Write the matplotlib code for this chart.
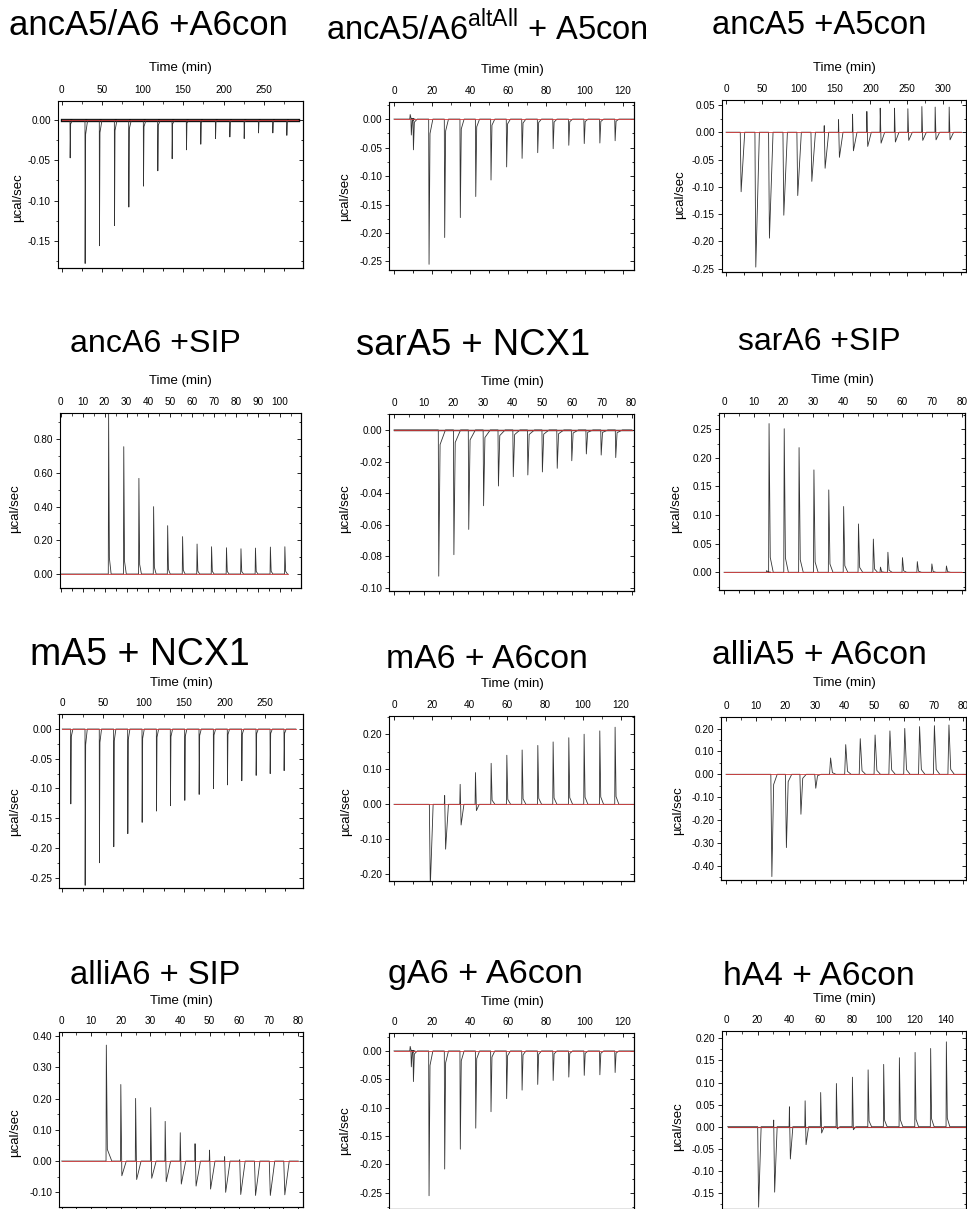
import matplotlib
matplotlib.use('Agg')
import matplotlib.pyplot as plt
from matplotlib.ticker import MultipleLocator, FuncFormatter

plt.rcParams['font.family'] = ['Liberation Sans', 'DejaVu Sans']
plt.rcParams['axes.unicode_minus'] = False
plt.rcParams['mathtext.fontset'] = 'custom'
plt.rcParams['mathtext.rm'] = 'Liberation Sans'

# ---- data: injection times (min), first peak, second (opposite) peak (ucal/sec) ----
titles = ['ancA5/A6 +A6con', r'ancA5/A6$^{\rm altAll}$ + A5con', 'ancA5 +A5con',
          'ancA6 +SIP', 'sarA5 + NCX1', 'sarA6 +SIP',
          'mA5 + NCX1', 'mA6 + A6con', 'alliA5 + A6con',
          'alliA6 + SIP', 'gA6 + A6con', 'hA4 + A6con']

anc56_t = [10.3, 28.8, 46.5, 65.1, 82.8, 100.9, 118.6, 136.3, 154.0, 171.7, 189.9, 207.6, 225.3, 243.0, 260.7, 278.0]
anc56_p = [-0.047, -0.178, -0.156, -0.131, -0.108, -0.082, -0.063, -0.048, -0.037, -0.030, -0.023, -0.021, -0.023, -0.016, -0.016, -0.019]

alt_t = [8.3, 8.9, 10.0, 18.2, 26.4, 34.6, 42.7, 50.7, 58.9, 67.0, 75.2, 83.3, 91.5, 99.6, 107.8, 115.8]
alt_p = [0.008, -0.028, -0.054, -0.255, -0.208, -0.173, -0.136, -0.107, -0.084, -0.069, -0.059, -0.052, -0.046, -0.043, -0.042, -0.038]

anc5_t = [19.4, 39.7, 58.6, 78.5, 97.8, 117.3, 135.7, 155.5, 174.9, 194.7, 213.2, 233.0, 251.5, 270.9, 289.3, 308.7]
anc5_up = [0, 0, 0, 0, 0, 0, 0.012, 0.023, 0.033, 0.038, 0.044, 0.044, 0.043, 0.047, 0.046, 0.046]
anc5_down = [-0.109, -0.247, -0.194, -0.152, -0.116, -0.090, -0.066, -0.046, -0.034, -0.026, -0.020, -0.018, -0.015, -0.015, -0.014, -0.014]

anc6_t = [21.7, 28.6, 35.5, 42.2, 48.6, 55.4, 62.0, 68.6, 75.4, 82.0, 88.6, 95.4, 102.0]
anc6_p = [0.95, 0.756, 0.568, 0.400, 0.287, 0.222, 0.178, 0.162, 0.156, 0.150, 0.154, 0.160, 0.162]

sar5_t = [14.9, 20.0, 25.0, 30.0, 35.0, 40.0, 44.9, 49.8, 54.8, 59.7, 64.6, 69.6, 74.5]
sar5_p = [-0.0926, -0.079, -0.063, -0.048, -0.0355, -0.0296, -0.0285, -0.0266, -0.0243, -0.0195, -0.0152, -0.0159, -0.0175]

sar6_t = [14.2, 15.0, 20.1, 25.1, 30.1, 35.1, 40.1, 45.1, 50.1, 52.5, 55.0, 59.9, 64.9, 69.8, 74.7]
sar6_p = [0.003, 0.260, 0.251, 0.218, 0.179, 0.144, 0.115, 0.0845, 0.058, 0.009, 0.035, 0.0256, 0.0186, 0.0146, 0.011]

m5_t = [10.3, 28.0, 45.6, 63.3, 80.6, 98.3, 116.0, 133.2, 150.9, 168.6, 186.3, 203.5, 221.2, 238.9, 256.2, 273.4]
m5_p = [-0.126, -0.263, -0.225, -0.198, -0.176, -0.157, -0.138, -0.129, -0.120, -0.110, -0.100, -0.094, -0.087, -0.078, -0.075, -0.070]

m6_t = [18.5, 26.6, 34.8, 42.9, 51.2, 59.5, 67.6, 75.9, 84.0, 92.3, 100.4, 108.7, 116.8]
m6_up = [0, 0.025, 0.057, 0.0905, 0.117, 0.140, 0.155, 0.168, 0.178, 0.190, 0.200, 0.2095, 0.220]
m6_down = [-0.235, -0.128, -0.059, -0.018, 0, 0, 0, 0, 0, 0, 0, 0, 0]

alli5_t = [15.1, 20.0, 24.9, 29.9, 34.9, 40.0, 44.9, 49.9, 54.9, 59.9, 64.9, 69.9, 74.8]
alli5_p = [-0.448, -0.321, -0.175, -0.061, 0.0715, 0.130, 0.156, 0.172, 0.190, 0.201, 0.209, 0.213, 0.216]

alli6_t = [15.0, 19.9, 24.9, 30.0, 34.9, 40.0, 45.0, 49.9, 55.0, 60.1, 65.1, 70.1, 75.0]
alli6_up = [0.371, 0.245, 0.2005, 0.171, 0.127, 0.0907, 0.0555, 0.035, 0.014, 0.004, 0.0, 0.0, 0.0]
alli6_down = [0, -0.047, -0.059, -0.055, -0.066, -0.0736, -0.080, -0.0896, -0.100, -0.107, -0.110, -0.110, -0.108]

h4_t = [19.9, 30.1, 40.1, 50.1, 60.0, 70.0, 80.2, 90.2, 100.1, 110.1, 120.1, 130.0, 140.0]
h4_up = [0, 0.015, 0.045, 0.0586, 0.0774, 0.0977, 0.112, 0.1286, 0.141, 0.156, 0.168, 0.177, 0.192]
h4_down = [-0.182, -0.148, -0.073, -0.0406, -0.0143, -0.005, -0.0068, 0, 0, 0, 0, 0, 0]

# trace start / end (min)
t_range = [(1, 291.6), (0, 126), (0, 326), (0, 103.5), (0, 80), (0, 80),
           (0, 288), (0, 126.7), (0, 81), (0, 80), (0, 126), (1, 152.7)]

data = [(anc56_t, anc56_p, None), (alt_t, alt_p, None), (anc5_t, anc5_up, anc5_down),
        (anc6_t, anc6_p, None), (sar5_t, sar5_p, None), (sar6_t, sar6_p, None),
        (m5_t, m5_p, None), (m6_t, m6_up, m6_down), (alli5_t, alli5_p, None),
        (alli6_t, alli6_up, alli6_down), (alt_t, alt_p, None), (h4_t, h4_up, h4_down)]

# ---- layout (pixels) ----
W, H = 967, 1209
boxes = [(57.7, 100.7, 302.7, 268.3), (389.3, 102.0, 634.0, 270.0), (721.7, 100.0, 966.0, 272.0),
         (60.0, 413.0, 301.0, 588.0), (389.3, 414.0, 633.7, 591.0), (719.3, 413.0, 965.0, 590.0),
         (59.3, 714.0, 302.7, 888.3), (389.3, 716.0, 634.0, 880.7), (721.0, 717.0, 966.0, 880.0),
         (59.3, 1032.0, 302.7, 1207.0), (389.3, 1033.0, 634.0, 1208.5), (721.7, 1031.0, 966.0, 1208.5)]
xlims = [(-4.9, 297.8), (-2.45, 125.9), (-6.0, 332.3), (-0.3, 109.5), (-1.6, 80.7), (-1.6, 81.1),
         (-3.7, 296.5), (-2.5, 127.0), (-1.7, 80.9), (-0.8, 81.5), (-2.45, 125.9), (-2.8, 152.7)]
ylims = [(-0.184, 0.024), (-0.265, 0.030), (-0.256, 0.059), (-0.083, 0.956), (-0.102, 0.0101),
         (-0.031, 0.2785), (-0.268, 0.0253), (-0.218, 0.252), (-0.463, 0.251), (-0.147, 0.413),
         (-0.2775, 0.0316), (-0.185, 0.2165)]
xticks = [(50, 25), (20, 10), (50, 25), (10, 5), (10, 5), (10, 5),
          (50, 25), (20, 10), (10, 5), (10, 5), (20, 10), (20, 10)]
yticks = [(0.05, 0.025), (0.05, 0.025), (0.05, 0.025), (0.2, 0.1), (0.02, 0.01), (0.05, 0.025),
          (0.05, 0.025), (0.1, 0.05), (0.1, 0.05), (0.1, 0.05), (0.05, 0.025), (0.05, 0.025)]
# peak shape: rise, fall, recovery (min)
shapes = [(0.2, 0.6, 2.5), (0.2, 0.5, 1.5), (0.3, 1.2, 5.0), (0.15, 0.35, 0.8), (0.15, 0.45, 1.8),
          (0.15, 0.4, 1.0), (0.2, 0.6, 2.0), (0.2, 0.5, 1.5), (0.35, 0.6, 1.2), (0.1, 0.35, 1.5),
          (0.2, 0.5, 1.5), (0.2, 0.6, 1.6)]
noise_lw = [2.4, 0, 0, 0, 1.0, 0, 0, 0, 0, 0, 0, 0.8]
title_size = [25, 23.5, 23.7, 23.1, 26.3, 23, 27, 24.3, 24.3, 23.6, 24.7, 24.2]
title_pos = [(148, 35), (487, 40), (819, 34), (155, 352), (473, 355), (819, 350),
             (140, 665), (487, 668), (819, 664), (155, 984), (485, 983), (819, 985)]
time_pos = [(180, 68), (512, 70), (844, 68), (180, 381), (512, 382), (842, 380),
            (181, 683), (512, 684), (844, 683), (181, 1001), (512, 1002), (844, 999)]
ylab_pos = [(18, 198), (345, 197), (680, 195), (15, 509), (345, 509), (676, 509),
            (15, 812), (346, 812), (678, 811), (15, 1133), (345, 1131), (678, 1127)]


def build_trace(t, p, s, shape, t0, t1):
    r, f, w = shape
    xs, ys = [t0], [0.0]
    if s is None:
        s = [0] * len(t)
    for ti, pi, si in zip(t, p, s):
        mid = si if si != 0 else 0.1 * pi
        xs += [ti, ti + r, ti + r + f, ti + r + f + w]
        ys += [0.0, pi, mid, 0.0]
    xs.append(t1)
    ys.append(0.0)
    return xs, ys


def yfmt(v, pos):
    v = round(v, 4)
    if v == 0:
        v = 0.0
    return '%.2f' % v


fig = plt.figure(figsize=(W / 100, H / 100), dpi=100)

for i in range(12):
    l, tp, r, b = boxes[i]
    ax = fig.add_axes([l / W, 1 - b / H, (r - l) / W, (b - tp) / H])
    t, p, s = data[i]
    t0, t1 = t_range[i]
    xs, ys = build_trace(t, p, s, shapes[i], t0, t1)
    if noise_lw[i]:
        ax.plot([t0, t1], [0, 0], color='#111111', lw=noise_lw[i])
    ax.plot(xs, ys, color='#333333', lw=0.6)
    ax.plot([t0, t1], [0, 0], color='#d23c3c', lw=0.6)
    ax.set_xlim(*xlims[i])
    ax.set_ylim(*ylims[i])

    ax.xaxis.set_major_locator(MultipleLocator(xticks[i][0]))
    ax.xaxis.set_minor_locator(MultipleLocator(xticks[i][1]))
    ax.yaxis.set_major_locator(MultipleLocator(yticks[i][0]))
    ax.yaxis.set_minor_locator(MultipleLocator(yticks[i][1]))
    ax.xaxis.set_major_formatter(FuncFormatter(lambda v, pos: '%d' % round(v)))
    ax.yaxis.set_major_formatter(FuncFormatter(yfmt))
    ax.tick_params(axis='x', which='both', top=True, bottom=False, labeltop=True,
                   labelbottom=False, direction='in')
    ax.tick_params(axis='y', which='both', left=True, right=False, direction='out')
    ax.tick_params(which='major', length=3, width=0.6, labelsize=7.2, pad=2)
    ax.tick_params(which='minor', length=1.8, width=0.5)
    ax.tick_params(axis='x', which='major', pad=4)

    sx = ax.secondary_xaxis('bottom')
    sx.xaxis.set_major_locator(MultipleLocator(xticks[i][0]))
    sx.xaxis.set_minor_locator(MultipleLocator(xticks[i][1]))
    sx.tick_params(which='both', direction='out', labelbottom=False, width=0.6)
    sx.tick_params(which='major', length=3)
    sx.tick_params(which='minor', length=1.8)
    sy = ax.secondary_yaxis('right')
    sy.yaxis.set_major_locator(MultipleLocator(yticks[i][0]))
    sy.yaxis.set_minor_locator(MultipleLocator(yticks[i][1]))
    sy.tick_params(which='both', direction='in', labelright=False, width=0.6)
    sy.tick_params(which='major', length=3)
    sy.tick_params(which='minor', length=1.8)
    for sp in list(ax.spines.values()) + list(sx.spines.values()) + list(sy.spines.values()):
        sp.set_linewidth(0.8)

    fig.text(title_pos[i][0] / W, 1 - title_pos[i][1] / H, titles[i],
             ha='center', va='baseline', fontsize=title_size[i])
    fig.text(time_pos[i][0] / W, 1 - time_pos[i][1] / H, 'Time (min)',
             ha='center', va='center', fontsize=9.5)
    fig.text(ylab_pos[i][0] / W, 1 - ylab_pos[i][1] / H, 'µcal/sec',
             ha='center', va='center', fontsize=9.5, rotation=90)

fig.savefig('out.png', dpi=100)
